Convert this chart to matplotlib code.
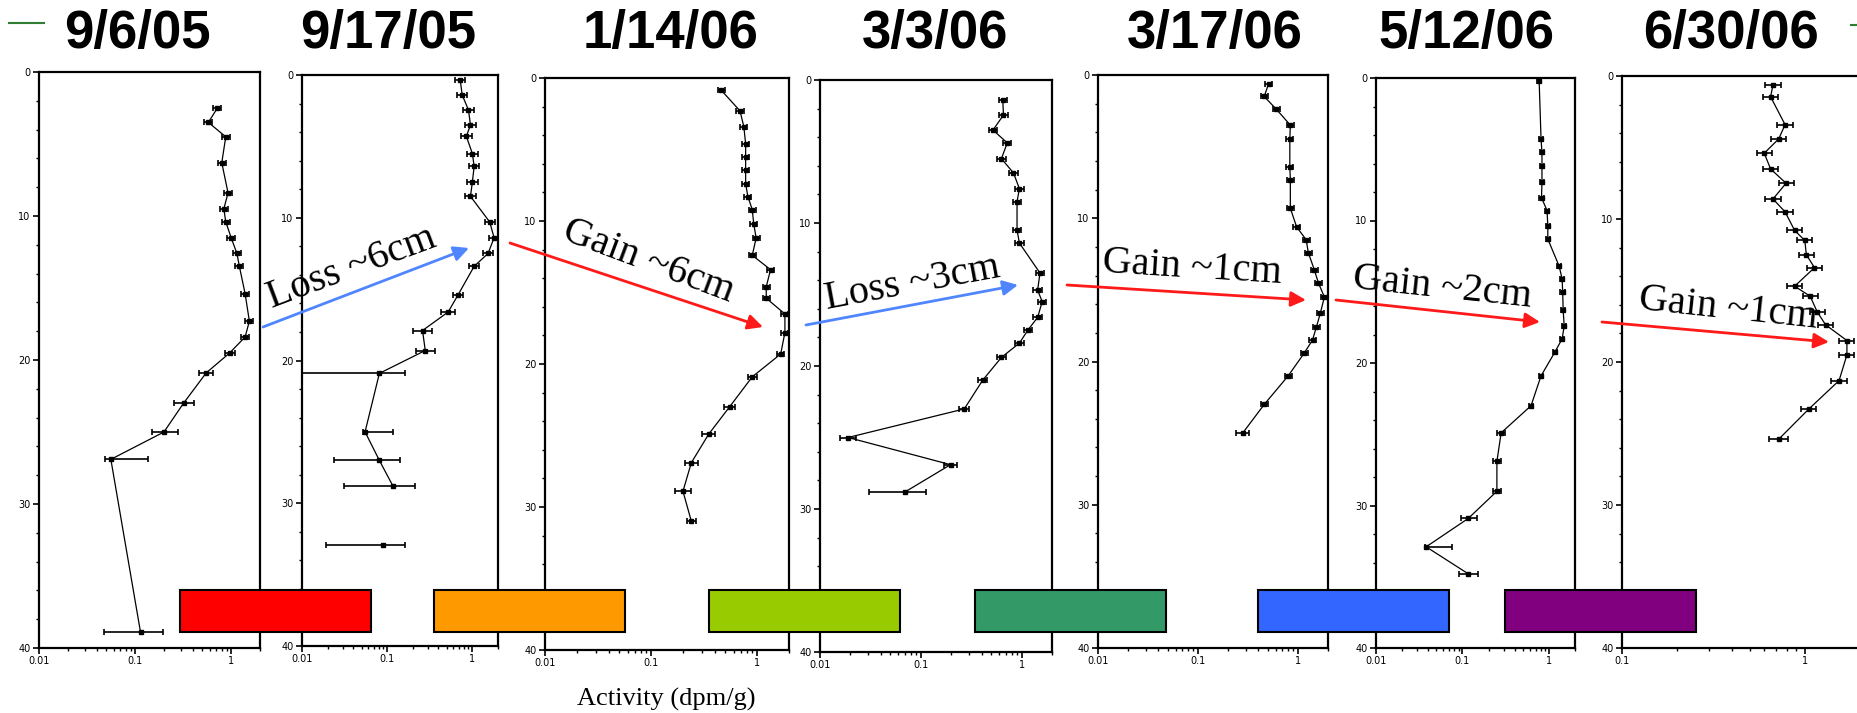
import numpy as np
import matplotlib.pyplot as plt

W, H = 1858, 713

dates = ['9/6/05', '9/17/05', '1/14/06', '3/3/06', '3/17/06', '5/12/06', '6/30/06']

# depth (cm) / activity (dpm/g) / error bar factors (below, above)
dep_1 = [2.5, 3.5, 4.5, 6.3, 8.4, 9.5, 10.4, 11.5, 12.6, 13.5, 15.4, 17.3, 18.4, 19.5, 20.9, 23.0, 25.0, 26.9, 38.9]
act_1 = [0.72, 0.58, 0.88, 0.80, 0.93, 0.84, 0.88, 1.0, 1.15, 1.22, 1.4, 1.55, 1.4, 0.97, 0.55, 0.32, 0.2, 0.056, 0.114]
lo_1 = [1.1, 1.1, 1.1, 1.1, 1.1, 1.1, 1.1, 1.1, 1.1, 1.1, 1.1, 1.1, 1.1, 1.12, 1.18, 1.27, 1.33, 1.15, 2.4]
hi_1 = [1.1, 1.1, 1.1, 1.1, 1.1, 1.1, 1.1, 1.1, 1.1, 1.1, 1.1, 1.1, 1.1, 1.12, 1.18, 1.27, 1.39, 2.45, 1.7]

dep_2 = [0.35, 1.4, 2.45, 3.5, 4.3, 5.5, 6.4, 7.5, 8.5, 10.3, 11.4, 12.5, 13.4, 15.4, 16.6, 17.9, 19.3, 20.9, 25.0, 27.0, 28.8]
act_2 = [0.72, 0.76, 0.90, 0.95, 0.85, 1.0, 1.05, 1.0, 0.95, 1.6, 1.8, 1.53, 1.05, 0.68, 0.52, 0.26, 0.28, 0.081, 0.055, 0.081, 0.117]
lo_2 = [1.15, 1.15, 1.15, 1.15, 1.15, 1.15, 1.15, 1.15, 1.15, 1.15, 1.15, 1.15, 1.15, 1.15, 1.2, 1.3, 1.3, 8.0, 1.05, 3.4, 3.8]
hi_2 = [1.15, 1.15, 1.15, 1.15, 1.15, 1.15, 1.15, 1.15, 1.15, 1.15, 1.15, 1.15, 1.15, 1.15, 1.2, 1.3, 1.3, 2.0, 2.1, 1.75, 1.8]
dep_2b = [32.9]
act_2b = [0.09]
lo_2b = [4.7]
hi_2b = [1.8]

dep_3 = [0.86, 2.3, 3.4, 4.6, 5.5, 6.45, 7.4, 8.3, 9.2, 10.2, 11.2, 12.4, 13.4, 14.6, 15.4, 16.5, 17.8, 19.3, 20.9, 23.0, 24.9, 26.9, 28.9, 31.0]
act_3 = [0.46, 0.69, 0.75, 0.78, 0.78, 0.78, 0.78, 0.82, 0.9, 0.93, 0.98, 0.9, 1.34, 1.22, 1.22, 1.83, 1.83, 1.67, 0.9, 0.55, 0.35, 0.24, 0.2, 0.24]
lo_3 = [1.08] * 18 + [1.1, 1.12, 1.15, 1.15, 1.2, 1.1]
hi_3 = [1.08] * 18 + [1.1, 1.12, 1.15, 1.15, 1.2, 1.1]

dep_4 = [1.4, 2.45, 3.5, 4.4, 5.5, 6.5, 7.6, 8.5, 10.5, 11.4, 13.5, 14.7, 15.5, 16.6, 17.5, 18.4, 19.4, 21.0, 23.0, 25.0, 26.9, 28.8]
act_4 = [0.65, 0.66, 0.52, 0.72, 0.63, 0.83, 0.95, 0.9, 0.9, 0.95, 1.52, 1.44, 1.6, 1.44, 1.15, 0.95, 0.63, 0.41, 0.27, 0.019, 0.197, 0.07]
lo_4 = [1.1] * 18 + [1.12, 1.2, 1.15, 2.3]
hi_4 = [1.1] * 18 + [1.12, 1.2, 1.15, 1.6]

dep_5 = [0.6, 1.5, 2.4, 3.5, 4.5, 6.4, 7.3, 9.3, 10.6, 11.5, 12.4, 13.6, 14.5, 15.5, 16.6, 17.6, 18.5, 19.4, 21.0, 23.0, 25.0]
act_5 = [0.51, 0.46, 0.61, 0.84, 0.83, 0.83, 0.84, 0.84, 0.97, 1.21, 1.27, 1.46, 1.6, 1.84, 1.68, 1.53, 1.4, 1.16, 0.8, 0.46, 0.28]
lo_5 = [1.08] * 20 + [1.17]
hi_5 = [1.08] * 20 + [1.17]

dep_6 = [0.2, 4.3, 5.2, 6.2, 7.3, 8.4, 9.3, 10.4, 11.3, 13.2, 14.1, 15.0, 16.3, 17.4, 18.3, 19.2, 20.9, 23.0, 24.9, 26.9, 29.0, 30.9, 32.9, 34.8]
act_6 = [0.77, 0.81, 0.83, 0.83, 0.83, 0.82, 0.95, 0.97, 0.97, 1.31, 1.42, 1.44, 1.46, 1.5, 1.42, 1.18, 0.81, 0.62, 0.28, 0.25, 0.25, 0.117, 0.038, 0.117]
lo_6 = [1.06] * 18 + [1.12, 1.12, 1.12, 1.22, 1.02, 1.3]
hi_6 = [1.06] * 18 + [1.12, 1.12, 1.12, 1.25, 2.0, 1.3]

dep_7 = [0.63, 1.45, 3.4, 4.4, 5.4, 6.5, 7.5, 8.6, 9.5, 10.8, 11.5, 12.5, 13.4, 14.7, 15.4, 16.5, 17.4, 18.5, 19.5, 21.3, 23.3, 25.4]
act_7 = [0.67, 0.65, 0.78, 0.72, 0.60, 0.65, 0.79, 0.67, 0.78, 0.88, 1.0, 1.02, 1.13, 0.88, 1.07, 1.17, 1.3, 1.7, 1.7, 1.54, 1.05, 0.72]
lo_7 = [1.1] * 21 + [1.13]
hi_7 = [1.1] * 21 + [1.13]

profiles = [
    (dep_1, act_1, lo_1, hi_1),
    (dep_2, act_2, lo_2, hi_2),
    (dep_3, act_3, lo_3, hi_3),
    (dep_4, act_4, lo_4, hi_4),
    (dep_5, act_5, lo_5, hi_5),
    (dep_6, act_6, lo_6, hi_6),
    (dep_7, act_7, lo_7, hi_7),
]

bar_colors = ['#ff0000', '#ff9900', '#99cc00', '#339966', '#3366ff', '#800080']

changes = ['Loss ~6cm', 'Gain ~6cm', 'Loss ~3cm', 'Gain ~1cm', 'Gain ~2cm', 'Gain ~1cm']
change_colors = ['#4f86ff', '#ff1a1a', '#4f86ff', '#ff1a1a', '#ff1a1a', '#ff1a1a']

# panel boxes in pixels: left, top, right, bottom
boxes = [(39, 72, 260, 648), (302, 75, 498, 646), (545, 78, 789, 650), (820, 80, 1052, 652),
         (1098, 75, 1328, 648), (1376, 78, 1575, 648), (1622, 76, 1892, 648)]

fig = plt.figure(figsize=(W / 100, H / 100), dpi=100)


def err_bars(ax, d, a, lo, hi):
    a = np.array(a)
    xerr = [a - a / np.array(lo), a * np.array(hi) - a]
    return ax.errorbar(a, d, xerr=xerr, fmt='-s', color='k', ms=2.2, lw=0.9,
                       elinewidth=1.2, capsize=2.5, capthick=1.2)


for i, (d, a, lo, hi) in enumerate(profiles):
    l, t, r, b = boxes[i]
    ax = fig.add_axes([l / W, 1 - b / H, (r - l) / W, (b - t) / H])
    ax.set_xscale('log')
    if i == 6:
        ax.set_xlim(0.1, 3)
        ax.set_xticks([0.1, 1])
        ax.set_xticklabels(['0.1', '1'])
    else:
        ax.set_xlim(0.01, 2)
        ax.set_xticks([0.01, 0.1, 1])
        ax.set_xticklabels(['0.01', '0.1', '1'])
    ax.set_ylim(40, 0)
    ax.set_yticks([0, 10, 20, 30, 40])
    ax.set_yticks(np.arange(0, 41, 2), minor=True)
    ax.tick_params(labelsize=7, length=4, width=1.2, pad=2)
    ax.tick_params(which='minor', length=2.5, width=1)
    for s in ax.spines.values():
        s.set_linewidth(1.6)
    err_bars(ax, d, a, lo, hi)
    if i == 1:
        err_bars(ax, dep_2b, act_2b, lo_2b, hi_2b)[0].set_linestyle('none')

# overlay in pixel coordinates for titles, arrows and colored bars
ov = fig.add_axes([0, 0, 1, 1])
ov.set_xlim(0, W)
ov.set_ylim(H, 0)
ov.axis('off')
ov.set_zorder(10)

title_x = [137, 388, 671, 935, 1215, 1466, 1731]
for x, s in zip(title_x, dates):
    ov.text(x, 48, s, ha='center', va='baseline', fontsize=38, fontweight='bold',
            family='Liberation Sans')
ov.plot([9, 44], [23, 23], color='#2e7d32', lw=1.5)
ov.plot([1851, 1858], [25, 25], color='#2e7d32', lw=1.5)

arrows = [((263, 327), (469, 248)), ((510, 243), (763, 327)), ((806, 325), (1018, 285)),
          ((1067, 285), (1306, 300)), ((1336, 300), (1540, 322)), ((1602, 322), (1829, 342))]
labels = [((352, 268), 20.5), ((648, 262), -20.5), ((912, 284), 10.5),
          ((1192, 268), -3.5), ((1442, 288), -6), ((1728, 309), -6)]
for (st, en), (pos, rot), txt, c in zip(arrows, labels, changes, change_colors):
    ov.annotate('', xy=en, xytext=st,
                arrowprops=dict(arrowstyle='-|>,head_length=0.9,head_width=0.45',
                                color=c, lw=2, shrinkA=0, shrinkB=0))
    ov.text(pos[0], pos[1], txt, rotation=rot, ha='center', va='center',
            fontsize=29, family='Liberation Serif', rotation_mode='anchor')

bar_x = [180, 434, 709, 975, 1258, 1505]
for x, c in zip(bar_x, bar_colors):
    ov.add_patch(plt.Rectangle((x, 590), 191, 42, facecolor=c, edgecolor='k', lw=1.5))

ov.text(666, 699, 'Activity (dpm/g)', ha='center', va='center', fontsize=19,
        family='Liberation Serif')

fig.savefig('out.png', dpi=100)
